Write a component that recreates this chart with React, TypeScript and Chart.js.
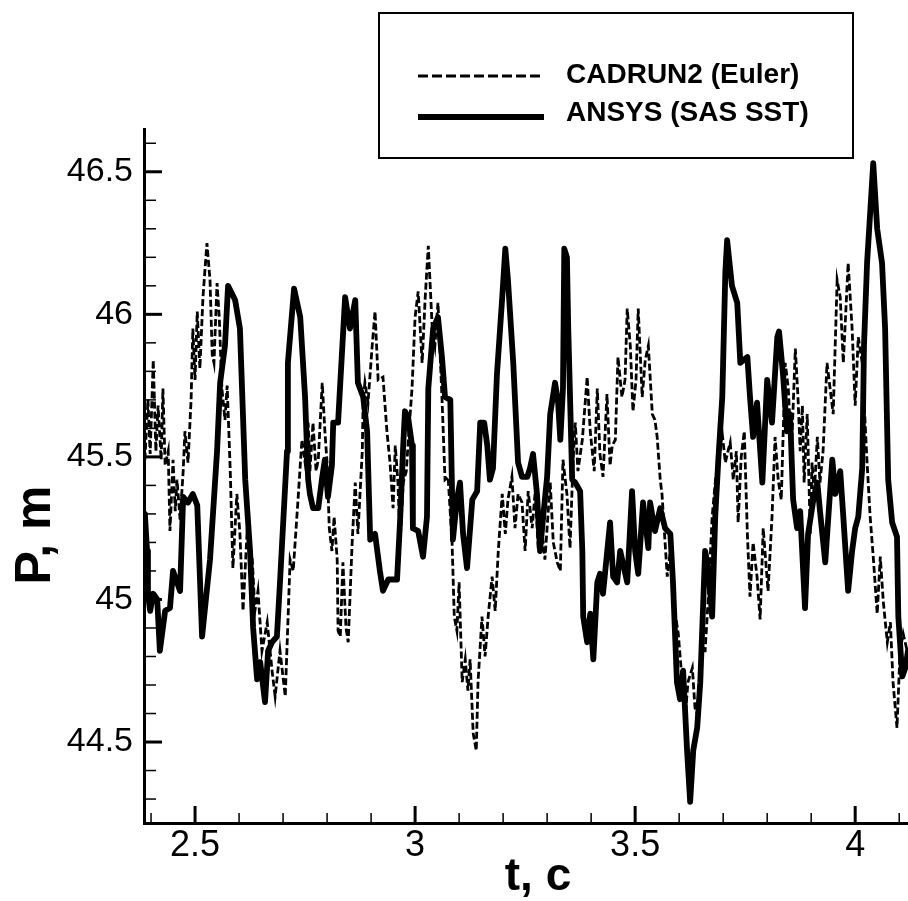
import React, { useEffect, useRef } from "react";
import { Chart, registerables } from "chart.js";

Chart.register(...registerables);

const FONT = '"Liberation Sans", Arial, Helvetica, sans-serif';

const xMajorTicks = [2.5, 3, 3.5, 4];
const xMinorTicks = [2.4, 2.6, 2.7, 2.8, 2.9, 3.1, 3.2, 3.3, 3.4, 3.6, 3.7, 3.8, 3.9, 4.1];
const yMajorTicks = [44.5, 45, 45.5, 46, 46.5];
const yMinorTicks = [44.3, 44.4, 44.6, 44.7, 44.8, 44.9, 45.1, 45.2, 45.3, 45.4, 45.6, 45.7, 45.8, 45.9, 46.1, 46.2, 46.3, 46.4, 46.6];
const xRange = [2.384, 4.12];
const yRange = [44.216, 46.65];

const seriesLabels = ["CADRUN2 (Euler)", "ANSYS (SAS SST)"];
const xTitle = "t, c";
const yTitle = "P, m";

// ANSYS (SAS SST) — solid
const tAnsys = [
  2.386, 2.391, 2.393, 2.398, 2.405, 2.414, 2.420, 2.432, 2.443, 2.450,
  2.459, 2.466, 2.473, 2.484, 2.495, 2.505, 2.516, 2.534, 2.550, 2.557,
  2.568, 2.575, 2.591, 2.602, 2.614, 2.625, 2.632, 2.641, 2.648, 2.659,
  2.666, 2.675, 2.686, 2.693, 2.709, 2.711, 2.725, 2.739, 2.750, 2.757,
  2.761, 2.768, 2.780, 2.789, 2.795, 2.802, 2.811, 2.814, 2.825, 2.830,
  2.841, 2.852, 2.864, 2.870, 2.882, 2.891, 2.898, 2.909, 2.920, 2.927,
  2.939, 2.959, 2.966, 2.973, 2.977, 2.984, 2.993, 2.995, 3.007, 3.018,
  3.027, 3.030, 3.041, 3.052, 3.061, 3.068, 3.080, 3.086, 3.095, 3.102,
  3.109, 3.118, 3.130, 3.141, 3.148, 3.157, 3.164, 3.170, 3.177, 3.186,
  3.198, 3.205, 3.211, 3.223, 3.234, 3.243, 3.255, 3.261, 3.268, 3.277,
  3.284, 3.291, 3.300, 3.307, 3.318, 3.325, 3.330, 3.336, 3.339, 3.345,
  3.348, 3.357, 3.364, 3.375, 3.380, 3.382, 3.391, 3.398, 3.405, 3.414,
  3.420, 3.427, 3.443, 3.450, 3.459, 3.466, 3.482, 3.493, 3.500, 3.507,
  3.518, 3.530, 3.534, 3.545, 3.557, 3.568, 3.580, 3.586, 3.595, 3.602,
  3.609, 3.618, 3.625, 3.632, 3.641, 3.648, 3.659, 3.666, 3.675, 3.682,
  3.689, 3.698, 3.705, 3.709, 3.720, 3.732, 3.739, 3.755, 3.761, 3.768,
  3.777, 3.789, 3.800, 3.811, 3.823, 3.827, 3.836, 3.845, 3.852, 3.859,
  3.868, 3.875, 3.886, 3.893, 3.905, 3.914, 3.920, 3.932, 3.939, 3.948,
  3.955, 3.966, 3.973, 3.984, 3.993, 4.000, 4.007, 4.016, 4.020, 4.027,
  4.041, 4.050, 4.061, 4.068, 4.075, 4.084, 4.095, 4.098, 4.107, 4.114, 4.120,
];
const pAnsys = [
  45.30, 45.17, 45.02, 44.96, 45.02, 45.00, 44.82, 44.96, 44.97, 45.10,
  45.06, 45.03, 45.36, 45.34, 45.37, 45.33, 44.87, 45.14, 45.52, 45.76,
  45.89, 46.10, 46.05, 45.95, 45.42, 45.17, 44.90, 44.72, 44.78, 44.64,
  44.82, 44.85, 44.87, 45.06, 45.52, 45.83, 46.09, 45.99, 45.71, 45.42,
  45.37, 45.32, 45.32, 45.43, 45.49, 45.36, 45.47, 45.62, 45.62, 45.76,
  46.06, 45.95, 46.05, 45.76, 45.71, 45.59, 45.21, 45.23, 45.10, 45.03,
  45.07, 45.07, 45.28, 45.54, 45.66, 45.64, 45.54, 45.25, 45.24, 45.15,
  45.29, 45.74, 45.95, 45.99, 45.85, 45.71, 45.70, 45.21, 45.35, 45.41,
  45.23, 45.11, 45.35, 45.38, 45.62, 45.62, 45.54, 45.42, 45.46, 45.79,
  46.06, 46.23, 46.12, 45.83, 45.48, 45.43, 45.43, 45.46, 45.51, 45.37,
  45.17, 45.29, 45.43, 45.65, 45.76, 45.69, 45.56, 45.74, 46.23, 46.20,
  45.95, 45.42, 45.41, 45.38, 45.17, 44.94, 44.85, 44.95, 44.79, 45.06,
  45.09, 45.02, 45.27, 45.08, 45.06, 45.17, 45.06, 45.38, 45.17, 45.09,
  45.34, 45.18, 45.34, 45.24, 45.32, 45.25, 45.23, 45.06, 44.71, 44.65,
  44.75, 44.47, 44.29, 44.47, 44.55, 44.71, 45.17, 45.11, 44.94, 45.29,
  45.49, 45.71, 46.15, 46.26, 46.10, 46.04, 45.83, 45.85, 45.71, 45.57,
  45.69, 45.41, 45.77, 45.62, 45.92, 45.94, 45.79, 45.59, 45.65, 45.35,
  45.25, 45.31, 44.97, 45.23, 45.35, 45.41, 45.31, 45.13, 45.29, 45.49,
  45.37, 45.45, 45.29, 45.03, 45.17, 45.25, 45.29, 45.46, 45.89, 46.18,
  46.53, 46.30, 46.18, 45.95, 45.42, 45.27, 45.22, 44.94, 44.73, 44.76, 44.82,
];

// CADRUN2 (Euler) — dashed
const tCadrun = [
  2.386, 2.393, 2.398, 2.405, 2.411, 2.416, 2.423, 2.427, 2.432, 2.439,
  2.443, 2.450, 2.455, 2.459, 2.466, 2.473, 2.477, 2.484, 2.491, 2.495,
  2.500, 2.505, 2.511, 2.518, 2.527, 2.534, 2.539, 2.543, 2.550, 2.555,
  2.561, 2.568, 2.573, 2.580, 2.586, 2.595, 2.602, 2.609, 2.618, 2.630,
  2.636, 2.643, 2.652, 2.664, 2.675, 2.682, 2.693, 2.705, 2.716, 2.723,
  2.734, 2.739, 2.743, 2.750, 2.757, 2.761, 2.768, 2.775, 2.780, 2.789,
  2.795, 2.800, 2.805, 2.811, 2.816, 2.823, 2.825, 2.830, 2.836, 2.843,
  2.848, 2.857, 2.864, 2.870, 2.880, 2.882, 2.886, 2.893, 2.902, 2.909,
  2.916, 2.927, 2.936, 2.943, 2.950, 2.955, 2.961, 2.966, 2.973, 2.980,
  2.986, 2.993, 3.000, 3.007, 3.016, 3.023, 3.030, 3.039, 3.045, 3.052,
  3.061, 3.068, 3.075, 3.084, 3.089, 3.095, 3.100, 3.107, 3.114, 3.120,
  3.125, 3.132, 3.139, 3.143, 3.152, 3.159, 3.166, 3.175, 3.182, 3.189,
  3.198, 3.205, 3.211, 3.220, 3.227, 3.234, 3.243, 3.250, 3.257, 3.266,
  3.273, 3.280, 3.289, 3.295, 3.307, 3.314, 3.323, 3.330, 3.336, 3.345,
  3.352, 3.359, 3.364, 3.370, 3.380, 3.391, 3.398, 3.407, 3.414, 3.420,
  3.427, 3.436, 3.443, 3.448, 3.455, 3.461, 3.470, 3.477, 3.482, 3.489,
  3.495, 3.502, 3.507, 3.516, 3.523, 3.530, 3.539, 3.545, 3.550, 3.557,
  3.561, 3.568, 3.573, 3.580, 3.586, 3.598, 3.607, 3.614, 3.620, 3.630,
  3.636, 3.643, 3.652, 3.659, 3.666, 3.675, 3.682, 3.689, 3.698, 3.705,
  3.711, 3.716, 3.723, 3.730, 3.734, 3.741, 3.748, 3.755, 3.761, 3.768,
  3.777, 3.784, 3.791, 3.802, 3.811, 3.818, 3.825, 3.832, 3.841, 3.848,
  3.855, 3.864, 3.870, 3.875, 3.880, 3.884, 3.891, 3.898, 3.902, 3.907,
  3.914, 3.920, 3.927, 3.936, 3.943, 3.950, 3.959, 3.966, 3.973, 3.984,
  3.993, 4.000, 4.007, 4.016, 4.027, 4.034, 4.041, 4.050, 4.057, 4.064,
  4.073, 4.080, 4.086, 4.095, 4.102, 4.109, 4.118,
];
const pCadrun = [
  45.49, 45.70, 45.51, 45.84, 45.52, 45.68, 45.49, 45.74, 45.47, 45.52,
  45.24, 45.49, 45.31, 45.42, 45.28, 45.45, 45.59, 45.48, 45.70, 45.95,
  45.77, 46.01, 45.81, 46.06, 46.25, 46.12, 45.86, 45.83, 46.11, 45.99,
  45.74, 45.63, 45.75, 45.45, 45.11, 45.37, 45.23, 44.96, 45.23, 45.14,
  44.96, 45.03, 44.82, 44.92, 44.75, 44.66, 44.82, 44.66, 45.14, 45.10,
  45.35, 45.47, 45.56, 45.48, 45.62, 45.45, 45.62, 45.45, 45.49, 45.76,
  45.59, 45.48, 45.25, 45.17, 45.29, 45.14, 44.89, 44.87, 45.13, 44.90,
  44.85, 45.20, 45.41, 45.23, 45.52, 45.70, 45.76, 45.69, 45.88, 46.01,
  45.77, 45.78, 45.59, 45.48, 45.32, 45.54, 45.41, 45.20, 45.41, 45.45,
  45.59, 45.74, 45.99, 46.08, 45.83, 46.06, 46.24, 45.95, 45.89, 46.04,
  45.71, 45.42, 45.43, 45.20, 44.94, 44.89, 45.06, 44.71, 44.79, 44.68,
  44.79, 44.53, 44.47, 44.71, 44.94, 44.80, 44.94, 45.08, 44.96, 45.17,
  45.37, 45.23, 45.35, 45.43, 45.25, 45.37, 45.34, 45.17, 45.38, 45.25,
  45.38, 45.17, 45.23, 45.14, 45.41, 45.20, 45.13, 45.10, 45.49, 45.37,
  45.18, 45.49, 45.62, 45.45, 45.56, 45.78, 45.59, 45.45, 45.74, 45.51,
  45.43, 45.72, 45.47, 45.54, 45.56, 45.85, 45.71, 45.77, 46.02, 45.89,
  45.66, 45.77, 46.02, 45.71, 45.84, 45.89, 45.65, 45.63, 45.57, 45.42,
  45.37, 45.20, 45.08, 45.17, 45.00, 44.88, 44.71, 44.59, 44.71, 44.76,
  44.62, 44.59, 44.82, 44.82, 45.00, 45.29, 45.41, 45.50, 45.58, 45.48,
  45.52, 45.55, 45.42, 45.52, 45.27, 45.50, 45.59, 45.23, 45.01, 45.20,
  45.08, 44.93, 45.25, 45.03, 45.29, 45.57, 45.42, 45.35, 45.83, 45.74,
  45.51, 45.88, 45.71, 45.52, 45.68, 45.41, 45.65, 45.23, 45.48, 45.37,
  45.57, 45.41, 45.52, 45.83, 45.74, 45.65, 46.12, 46.06, 45.83, 46.18,
  45.95, 45.68, 45.92, 45.83, 45.48, 45.29, 45.15, 44.95, 45.15, 44.99,
  44.85, 44.92, 44.71, 44.55, 44.82, 44.88, 44.82,
];

const toPoints = (ts: number[], ps: number[]) => {
  const n = Math.min(ts.length, ps.length);
  const out: { x: number; y: number }[] = [];
  for (let i = 0; i < n; i++) out.push({ x: ts[i], y: ps[i] });
  return out;
};

const decorPlugin = {
  id: "decor",
  beforeDatasetsDraw(chart: any) {
    const { ctx, chartArea: a, scales } = chart;
    const xs = scales.x;
    const ys = scales.y;
    ctx.save();
    ctx.strokeStyle = "#000";
    ctx.lineCap = "butt";
    const tickX = (v: number, len: number, w: number) => {
      const px = xs.getPixelForValue(v);
      ctx.lineWidth = w;
      ctx.beginPath();
      ctx.moveTo(px, a.bottom);
      ctx.lineTo(px, a.bottom - len);
      ctx.stroke();
    };
    const tickY = (v: number, len: number, w: number) => {
      const py = ys.getPixelForValue(v);
      ctx.lineWidth = w;
      ctx.beginPath();
      ctx.moveTo(a.left, py);
      ctx.lineTo(a.left + len, py);
      ctx.stroke();
    };
    xMajorTicks.forEach((v) => tickX(v, 17, 3));
    xMinorTicks.forEach((v) => tickX(v, 10, 1.5));
    yMajorTicks.forEach((v) => tickY(v, 18, 3));
    yMinorTicks.forEach((v) => tickY(v, 12, 1.5));
    ctx.restore();
  },
  afterDraw(chart: any) {
    const { ctx } = chart;
    const ds = chart.data.datasets;
    ctx.save();
    ctx.fillStyle = "#fff";
    ctx.fillRect(379, 13, 474, 145);
    ctx.strokeStyle = "#000";
    ctx.lineWidth = 2;
    ctx.strokeRect(379, 13, 474, 145);
    const rows = [
      { lineY: 76, textY: 75 },
      { lineY: 117, textY: 113 },
    ];
    ds.forEach((d: any, i: number) => {
      const r = rows[i];
      ctx.save();
      ctx.strokeStyle = d.borderColor;
      ctx.lineWidth = i === 0 ? 2.8 : 6;
      ctx.setLineDash(i === 0 ? [10, 4] : []);
      ctx.beginPath();
      ctx.moveTo(418, r.lineY);
      ctx.lineTo(544, r.lineY);
      ctx.stroke();
      ctx.restore();
      ctx.fillStyle = "#000";
      ctx.font = `bold 28px ${FONT}`;
      ctx.textAlign = "left";
      ctx.textBaseline = "middle";
      ctx.fillText(d.label, 566, r.textY);
    });
    ctx.fillStyle = "#000";
    ctx.font = `bold 46px ${FONT}`;
    ctx.textAlign = "center";
    ctx.textBaseline = "alphabetic";
    ctx.fillText(xTitle, 538, 890);
    ctx.save();
    ctx.translate(50, 535);
    ctx.rotate(-Math.PI / 2);
    ctx.font = `bold 50px ${FONT}`;
    ctx.fillText(yTitle, 0, 0);
    ctx.restore();
    ctx.restore();
  },
};

export default function App() {
  const canvasRef = useRef<HTMLCanvasElement | null>(null);

  useEffect(() => {
    if (!canvasRef.current) return;
    const chart = new Chart(canvasRef.current, {
      type: "line",
      data: {
        datasets: [
          {
            label: seriesLabels[0],
            data: toPoints(tCadrun, pCadrun),
            borderColor: "#000",
            borderWidth: 2.8,
            borderDash: [7, 3],
            pointRadius: 0,
            tension: 0,
            fill: false,
            order: 1,
          },
          {
            label: seriesLabels[1],
            data: toPoints(tAnsys, pAnsys),
            borderColor: "#000",
            borderWidth: 5.8,
            borderJoinStyle: "round",
            borderCapStyle: "round",
            pointRadius: 0,
            tension: 0,
            fill: false,
            order: 0,
          },
        ],
      },
      options: {
        responsive: false,
        animation: false,
        devicePixelRatio: 1,
        parsing: false,
        layout: { padding: { top: 129, left: 0, right: 0, bottom: 0 } },
        plugins: {
          legend: { display: false },
          tooltip: { enabled: false },
        },
        scales: {
          x: {
            type: "linear",
            min: xRange[0],
            max: xRange[1],
            afterBuildTicks: (s: any) => {
              s.ticks = xMajorTicks.map((v) => ({ value: v }));
            },
            afterFit: (s: any) => {
              s.height = 78;
            },
            ticks: {
              callback: (v: any) => String(v),
              font: { family: FONT, size: 36, lineHeight: 1 },
              color: "#000",
              padding: 5,
              maxRotation: 0,
              autoSkip: false,
            },
            grid: { drawOnChartArea: false, drawTicks: false },
            border: { display: true, width: 3, color: "#000" },
          },
          y: {
            type: "linear",
            min: yRange[0],
            max: yRange[1],
            afterBuildTicks: (s: any) => {
              s.ticks = yMajorTicks.map((v) => ({ value: v }));
            },
            afterFit: (s: any) => {
              s.width = 144;
            },
            ticks: {
              callback: (v: any) => String(v),
              font: { family: FONT, size: 34 },
              color: "#000",
              padding: 11,
              autoSkip: false,
            },
            grid: { drawOnChartArea: false, drawTicks: false },
            border: { display: true, width: 3, color: "#000" },
          },
        },
      },
      plugins: [decorPlugin],
    } as any);
    return () => chart.destroy();
  }, []);

  return (
    <div style={{ position: "fixed", left: 0, top: 0, width: 908, height: 901, background: "#fff", overflow: "hidden" }}>
      <canvas ref={canvasRef} width={908} height={901} style={{ display: "block" }} />
    </div>
  );
}
